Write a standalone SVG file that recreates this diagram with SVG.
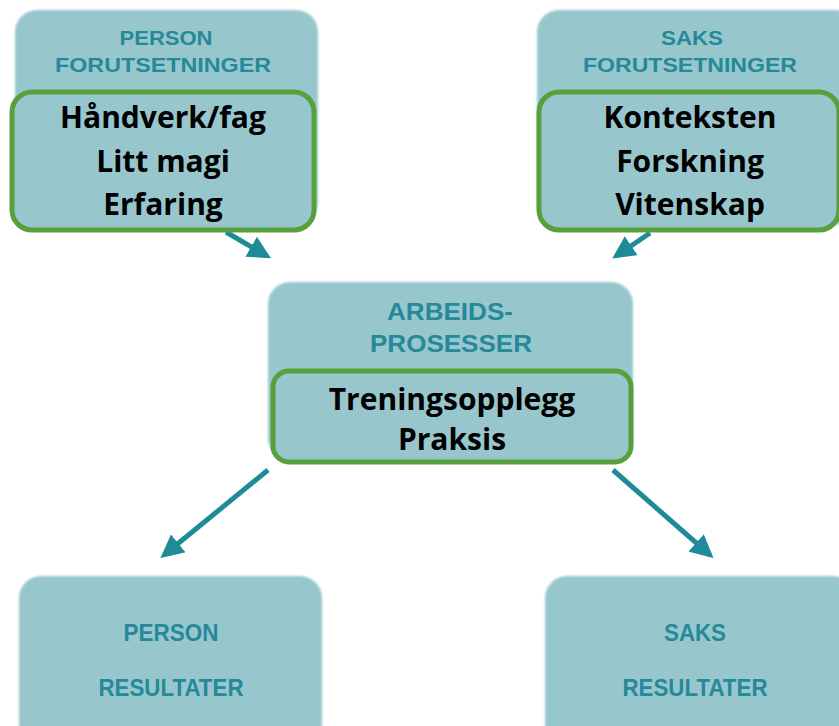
<svg xmlns="http://www.w3.org/2000/svg" width="839" height="726" viewBox="0 0 839 726">
  <style>
    .base { fill: #97c7cd; }
    .inner { fill: #97c7cd; stroke: #58a03c; stroke-width: 5; }
    .head { font-family: "Liberation Sans", Arial, sans-serif; font-weight: bold; fill: #26899a; text-anchor: middle; }
    .body { font-family: "Open Sans", "Liberation Sans", sans-serif; font-weight: bold; fill: #000; text-anchor: middle; font-size: 30px; }
    .conn { stroke: #1f8b99; stroke-width: 5; fill: none; marker-end: url(#head); }
  </style>
  <defs>
    <filter id="soft" x="-5%" y="-5%" width="110%" height="110%">
      <feGaussianBlur stdDeviation="0.8"/>
    </filter>
    <marker id="head" viewBox="0 0 10 10" refX="8" refY="5" markerWidth="4.6" markerHeight="4.6" orient="auto" markerUnits="strokeWidth">
      <path d="M0,0 L10,5 L0,10 Z" fill="#1f8b99"/>
    </marker>
  </defs>

  <rect width="839" height="726" fill="#ffffff"/>

  <!-- connectors -->
  <g id="connectors">
    <line class="conn" x1="226" y1="232" x2="267" y2="256"/>
    <line class="conn" x1="650" y1="233" x2="616" y2="256"/>
    <line class="conn" x1="268" y1="470" x2="164" y2="555"/>
    <line class="conn" x1="613" y1="470" x2="710" y2="555"/>
  </g>

  <!-- person prerequisites -->
  <g id="person-forutsetninger">
    <rect class="base" x="15" y="10" width="303" height="215" rx="22" filter="url(#soft)"/>
    <text class="head" x="166" y="45" font-size="21" textLength="93" lengthAdjust="spacingAndGlyphs">PERSON</text>
    <text class="head" x="163" y="72" font-size="21" textLength="216" lengthAdjust="spacingAndGlyphs">FORUTSETNINGER</text>
    <rect class="inner" x="12" y="92" width="302" height="138" rx="20"/>
    <text class="body" x="163" y="128">Håndverk/fag</text>
    <text class="body" x="163" y="172">Litt magi</text>
    <text class="body" x="163" y="215">Erfaring</text>
  </g>

  <!-- case prerequisites -->
  <g id="saks-forutsetninger">
    <rect class="base" x="537" y="10" width="320" height="215" rx="22" filter="url(#soft)"/>
    <text class="head" x="692" y="45" font-size="21" textLength="62" lengthAdjust="spacingAndGlyphs">SAKS</text>
    <text class="head" x="690" y="72" font-size="21" textLength="214" lengthAdjust="spacingAndGlyphs">FORUTSETNINGER</text>
    <rect class="inner" x="539" y="92" width="300" height="138" rx="20"/>
    <text class="body" x="690" y="128">Konteksten</text>
    <text class="body" x="690" y="172">Forskning</text>
    <text class="body" x="690" y="215">Vitenskap</text>
  </g>

  <!-- work processes -->
  <g id="arbeidsprosesser">
    <rect class="base" x="268" y="282" width="365" height="178" rx="22" filter="url(#soft)"/>
    <text class="head" x="450" y="320" font-size="23" textLength="126" lengthAdjust="spacingAndGlyphs">ARBEIDS-</text>
    <text class="head" x="451" y="352" font-size="23" textLength="162" lengthAdjust="spacingAndGlyphs">PROSESSER</text>
    <rect class="inner" x="273" y="371" width="358" height="91" rx="16"/>
    <text class="body" x="452" y="410">Treningsopplegg</text>
    <text class="body" x="452" y="450">Praksis</text>
  </g>

  <!-- person results -->
  <g id="person-resultater">
    <rect class="base" x="19" y="576" width="303" height="170" rx="22" filter="url(#soft)"/>
    <text class="head" x="171" y="641" font-size="23" textLength="95" lengthAdjust="spacingAndGlyphs">PERSON</text>
    <text class="head" x="171" y="696" font-size="23" textLength="145" lengthAdjust="spacingAndGlyphs">RESULTATER</text>
  </g>

  <!-- case results -->
  <g id="saks-resultater">
    <rect class="base" x="545" y="576" width="310" height="170" rx="22" filter="url(#soft)"/>
    <text class="head" x="695" y="641" font-size="23" textLength="62" lengthAdjust="spacingAndGlyphs">SAKS</text>
    <text class="head" x="695" y="696" font-size="23" textLength="145" lengthAdjust="spacingAndGlyphs">RESULTATER</text>
  </g>
</svg>
